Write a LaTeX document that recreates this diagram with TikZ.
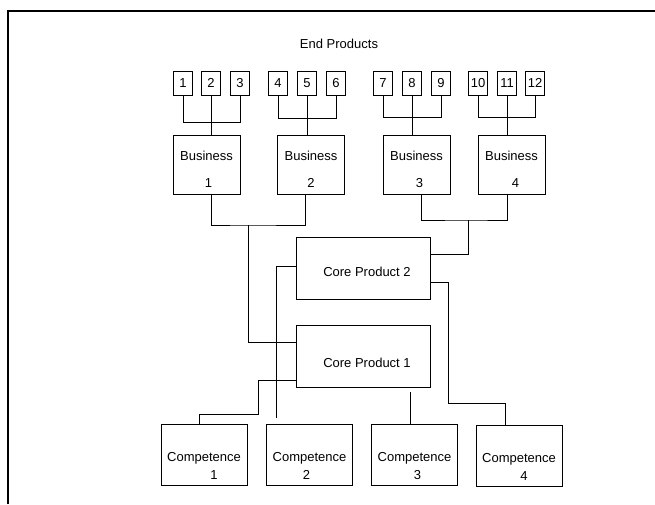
\documentclass[tikz,border=0pt]{standalone}
\usepackage{fontspec}
\setmainfont{Liberation Sans}
\begin{document}
\begin{tikzpicture}[x=1pt,y=-1pt,
  every node/.style={font=\fontsize{13}{15}\selectfont},
  line/.style={draw=black, line width=0.8pt},
  prodbox/.style={draw, line width=0.8pt, minimum width=19pt, minimum height=24pt, inner sep=0pt},
  bizbox/.style={draw, line width=0.8pt, minimum width=67pt, minimum height=59pt, inner sep=0pt},
  corebox/.style={draw, line width=0.8pt, minimum width=134pt, minimum height=62pt, inner sep=0pt},
  compbox/.style={draw, line width=0.8pt, minimum width=86pt, minimum height=61pt, inner sep=0pt},
  txt/.style={inner sep=0pt, anchor=base}]
\useasboundingbox (0,0) rectangle (655,504);

% outer frame
\draw[line width=1.3pt] (8,504) -- (8,11) -- (655,11);

% title
\node[txt] (title) at (339,48.5) {End Products};

% end products
\foreach \n/\x in {1/183,2/211,3/240,4/278,5/307,6/336,7/383,8/412,9/441,10/478,11/507,12/535}
  \node[prodbox] (p\n) at (\x,83) {\n};

% businesses
\node[bizbox] (b1) at (206.5,164.5) {};
\node[bizbox] (b2) at (311,164.5) {};
\node[bizbox] (b3) at (416.5,164.5) {};
\node[bizbox] (b4) at (511.5,164.5) {};
\foreach \i/\dx in {1/2,2/0,3/3,4/4}{
  \node[txt] (tb\i) at ([yshift=4.5pt]b\i.center) {Business};
  \node[txt] (nb\i) at ([xshift=\dx pt,yshift=-23pt]b\i.center) {\i};
}

% core products
\node[corebox] (cp2) at (363,268) {};
\node[corebox] (cp1) at (363,356.5) {};
\node[txt] (tcp2) at (367,276.5) {Core Product 2};
\node[txt] (tcp1) at (367,367.5) {Core Product 1};

% competences
\node[compbox] (c1) at (204,455) {};
\node[compbox] (c2) at (309.5,455) {};
\node[compbox] (c3) at (414.5,454.5) {};
\node[compbox] (c4) at (519,455.5) {};
\foreach \i/\dx in {1/10,2/-3,3/3,4/5}{
  \node[txt] (tc\i) at ([yshift=-6.5pt]c\i.center) {Competence};
  \node[txt] (nc\i) at ([xshift=\dx pt,yshift=-24.5pt]c\i.center) {\i};
}

% brackets joining end products to businesses
\coordinate (bar1) at (0,122);
\coordinate (bar2) at (0,118);
\coordinate (bar3) at (0,117);
\coordinate (bar4) at (0,117);
\draw[line] (p1.south) -- (p1.south |- bar1) -| (p3.south);
\draw[line] (p2.south) -- (p2.south |- b1.north);
\draw[line] (p4.south) -- (p4.south |- bar2) -| (p6.south);
\draw[line] (p5.south) -- (p5.south |- b2.north);
\draw[line] (p7.south) -- (p7.south |- bar3) -| (p9.south);
\draw[line] (p8.south) -- (p8.south |- b3.north);
\draw[line] (p10.south) -- (p10.south |- bar4) -| (p12.south);
\draw[line] (p11.south) -- (p11.south |- b4.north);

% businesses to core products
\coordinate (j12) at (248,225);
\draw[line] ([xshift=4.5pt]b1.south) |- (j12) -| ([xshift=-6pt]b2.south);
\draw[line] (j12) |- ([yshift=14.5pt]cp1.west);
\coordinate (j34) at (468,220);
\draw[line] ([xshift=4.5pt]b3.south) |- (j34) -| ([xshift=-4.5pt]b4.south);
\draw[line] (j34) |- ([yshift=14pt]cp2.east);

% core products to competences
\draw[line, shorten >=6pt] ([yshift=2pt]cp2.west) -| ([xshift=-33.5pt]c2.north);
\coordinate (k4) at (448,403);
\draw[line] ([yshift=-14pt]cp2.east) -| (k4) -| ([xshift=-14pt]c4.north);
\coordinate (k1) at (258,414);
\draw[line] ([yshift=-23.5pt]cp1.west) -| (k1) -| ([xshift=-5pt]c1.north);
\draw[line, shorten <=4pt] ([xshift=47pt]cp1.south) -- ([xshift=47pt]cp1.south |- c3.north);
\end{tikzpicture}
\end{document}
